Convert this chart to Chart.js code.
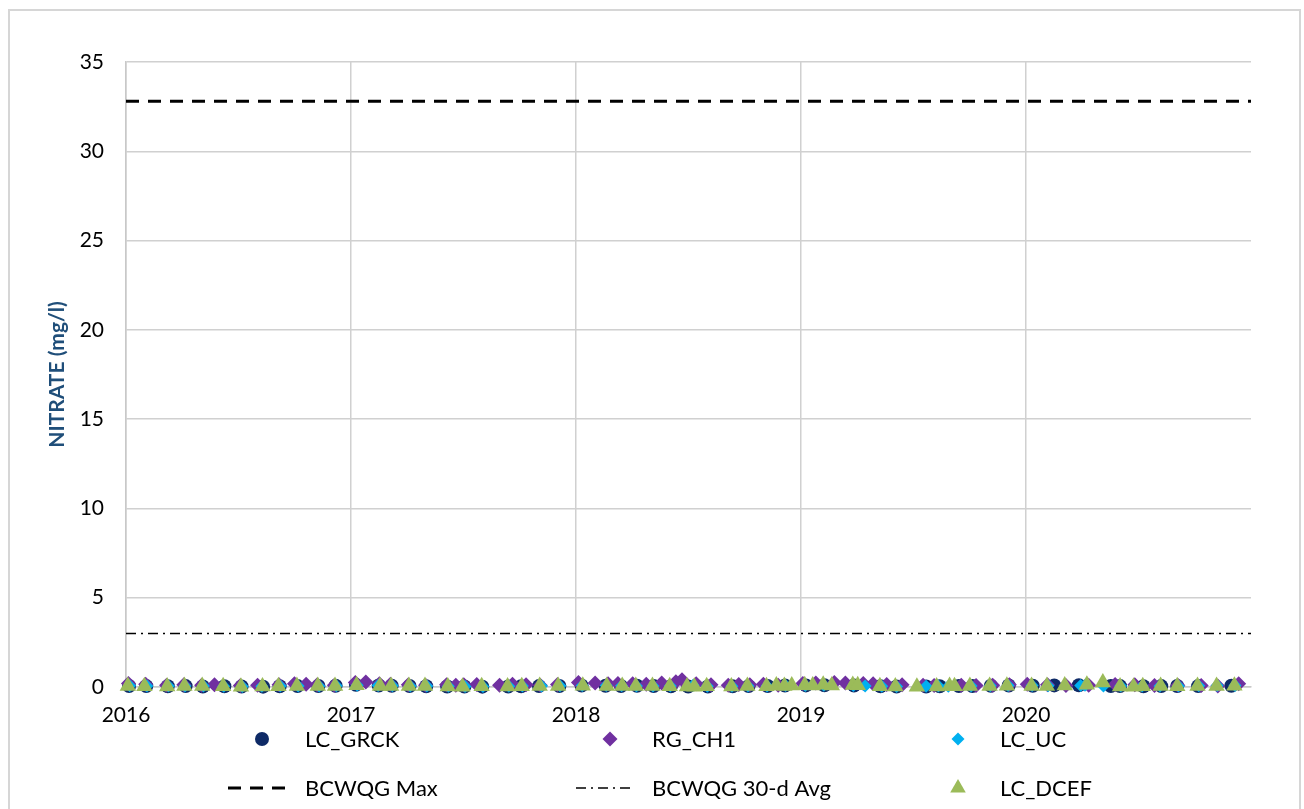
<!DOCTYPE html>
<html>
<head>
<meta charset="utf-8">
<script src="https://cdn.jsdelivr.net/npm/chart.js@4/dist/chart.umd.min.js"></script>
<style>
  html, body { margin: 0; padding: 0; background: #ffffff; }
  #frame {
    position: absolute; left: 8px; top: 9px; width: 1293px; height: 820px;
    border: 2px solid #d6d6d6; border-bottom: none; box-sizing: border-box;
  }
  #wrap { position: absolute; left: 0; top: 0; width: 1304px; height: 809px; }
</style>
</head>
<body>
<div id="frame"></div>
<div id="wrap"><canvas id="chart" width="1304" height="809"></canvas></div>
<script>
// Nitrate sampling results by site (mg/l)
const grckDates = [
  '2016-01-06','2016-02-03','2016-03-09','2016-04-07','2016-05-05','2016-06-09','2016-07-07','2016-08-11','2016-09-07','2016-10-06','2016-11-09','2016-12-07',
  '2017-01-09','2017-02-15','2017-03-08','2017-04-06','2017-05-03','2017-06-06','2017-07-04','2017-08-02','2017-09-13','2017-10-04','2017-11-02','2017-12-05',
  '2018-01-10','2018-02-18','2018-03-15','2018-04-10','2018-05-07','2018-06-04','2018-07-02','2018-08-03','2018-09-12','2018-10-08','2018-11-08','2018-12-06',
  '2019-01-09','2019-02-08','2019-03-28','2019-05-10','2019-06-05','2019-07-23','2019-08-14','2019-09-14','2019-10-06','2019-11-05','2019-12-04',
  '2020-01-12','2020-02-16','2020-03-27','2020-05-18','2020-06-02','2020-07-10','2020-08-08','2020-09-03','2020-10-07','2020-11-30'
];
const grckValues = [
  0.06,0.05,0.04,0.05,0.03,0.04,0.03,0.02,0.04,0.05,0.06,0.07,
  0.12,0.08,0.07,0.06,0.04,0.03,0.03,0.02,0.03,0.04,0.05,0.06,
  0.08,0.07,0.06,0.07,0.05,0.04,0.03,0.03,0.04,0.05,0.06,0.08,
  0.09,0.10,0.08,0.04,0.03,0.03,0.04,0.05,0.06,0.07,0.08,
  0.07,0.09,0.10,0.06,0.05,0.04,0.05,0.06,0.05,0.07
];

const ch1Dates = [
  '2016-01-05','2016-02-02','2016-03-07','2016-04-04','2016-05-03','2016-05-24','2016-07-05','2016-08-02','2016-09-06','2016-10-01','2016-10-20','2016-11-07','2016-12-05',
  '2017-01-08','2017-01-25','2017-02-16','2017-03-06','2017-04-04','2017-05-02','2017-06-05','2017-06-20','2017-07-03','2017-07-24','2017-08-30','2017-09-20','2017-10-12','2017-11-04','2017-12-02',
  '2018-01-05','2018-02-01','2018-02-22','2018-03-10','2018-04-03','2018-04-25','2018-05-20','2018-06-12','2018-06-22','2018-07-15','2018-08-08','2018-09-05','2018-09-22','2018-10-10','2018-11-01','2018-11-25',
  '2019-01-04','2019-01-25','2019-02-24','2019-03-14','2019-04-12','2019-04-28','2019-05-20','2019-06-14','2019-07-18','2019-08-05','2019-09-18','2019-10-12','2019-11-08','2019-12-05',
  '2020-01-03','2020-02-05','2020-03-06','2020-04-12','2020-05-25','2020-06-26','2020-07-28','2020-09-04','2020-10-12','2020-11-08','2020-12-12'
];
const ch1Values = [
  0.20,0.15,0.10,0.12,0.10,0.12,0.08,0.10,0.12,0.18,0.15,0.12,0.10,
  0.25,0.28,0.18,0.15,0.12,0.10,0.12,0.10,0.12,0.14,0.10,0.15,0.12,0.10,0.14,
  0.25,0.22,0.18,0.20,0.18,0.15,0.22,0.30,0.40,0.18,0.12,0.10,0.14,0.12,0.15,0.10,
  0.20,0.22,0.25,0.22,0.20,0.18,0.14,0.12,0.10,0.08,0.10,0.08,0.10,0.12,
  0.15,0.12,0.08,0.10,0.14,0.12,0.08,0.10,0.08,0.06,0.18
];

const ucDates = [
  '2016-01-07','2016-02-04','2016-03-10','2016-04-06','2016-05-06','2016-06-08','2016-07-08','2016-08-09','2016-09-08','2016-10-07','2016-11-10','2016-12-08',
  '2017-01-11','2017-02-14','2017-03-09','2017-04-07','2017-05-04','2017-06-08','2017-07-05','2017-08-03','2017-09-14','2017-10-06','2017-11-06','2017-12-06',
  '2018-01-11','2018-02-19','2018-03-16','2018-04-09','2018-05-06','2018-06-03','2018-07-10','2018-08-02','2018-09-11','2018-10-07','2018-11-07','2018-12-07',
  '2019-01-08','2019-02-07','2019-03-27','2019-04-15','2019-05-12','2019-06-05','2019-07-23','2019-08-12','2019-08-28','2019-10-04','2019-11-04','2019-12-03',
  '2020-01-11','2020-02-06','2020-03-30','2020-04-06','2020-05-06','2020-06-03','2020-07-08','2020-08-06','2020-09-05','2020-10-08','2020-11-07','2020-12-06'
];
const ucValues = [
  0.07,0.06,0.05,0.06,0.05,0.04,0.03,0.04,0.05,0.06,0.06,0.07,
  0.10,0.08,0.07,0.06,0.05,0.04,0.03,0.03,0.04,0.05,0.06,0.07,
  0.09,0.08,0.07,0.06,0.06,0.05,0.10,0.04,0.04,0.05,0.06,0.08,
  0.09,0.10,0.09,0.06,0.04,0.03,0.04,0.05,0.04,0.06,0.07,0.08,
  0.08,0.07,0.09,0.10,0.06,0.05,0.05,0.06,0.06,0.07,0.08,0.09
];

const dcefDates = [
  '2016-01-04','2016-01-31','2016-03-08','2016-04-05','2016-05-04','2016-06-07','2016-07-06','2016-08-10','2016-09-05','2016-10-05','2016-11-08','2016-12-06',
  '2017-01-10','2017-02-17','2017-03-07','2017-04-05','2017-05-01','2017-06-07','2017-07-01','2017-08-01','2017-09-12','2017-10-05','2017-11-03','2017-12-03',
  '2018-01-12','2018-02-20','2018-03-17','2018-04-08','2018-05-05','2018-06-02','2018-06-30','2018-07-12','2018-08-01','2018-09-10','2018-10-06','2018-11-06','2018-11-22','2018-12-05','2018-12-17',
  '2019-01-07','2019-01-20','2019-02-06','2019-02-20','2019-03-26','2019-04-03','2019-05-09','2019-06-03','2019-07-08','2019-08-09','2019-08-30','2019-09-07','2019-10-02','2019-11-03','2019-12-01',
  '2020-01-10','2020-02-04','2020-03-04','2020-04-09','2020-05-05','2020-06-02','2020-06-24','2020-07-09','2020-08-07','2020-09-03','2020-10-06','2020-11-06','2020-12-05'
];
const dcefValues = [
  0.05,0.04,0.03,0.06,0.05,0.04,0.02,0.03,0.04,0.05,0.06,0.05,
  0.10,0.05,0.06,0.05,0.06,0.03,0.02,0.04,0.03,0.04,0.05,0.06,
  0.07,0.05,0.06,0.05,0.06,0.04,0.03,0.02,0.04,0.03,0.05,0.04,0.08,0.06,0.09,
  0.10,0.08,0.12,0.09,0.11,0.10,0.04,0.03,0.02,0.03,0.05,0.04,0.05,0.06,0.07,
  0.06,0.05,0.09,0.12,0.25,0.03,0.02,0.04,0.05,0.04,0.05,0.06,0.07
];

// Guideline levels (mg/l)
const bcwqgMax = 32.8;
const bcwqgAvg30 = 3.0;

const yearTicks = [2016, 2017, 2018, 2019, 2020];
const xStart = 2016, xEnd = 2021;

// Convert an ISO date to a fractional year for the linear time axis
function toYear(d) {
  const [y, m, dd] = d.split('-').map(Number);
  const start = Date.UTC(y, 0, 1), end = Date.UTC(y + 1, 0, 1);
  return y + (Date.UTC(y, m - 1, dd) - start) / (end - start);
}
function pairs(dates, values) {
  return dates.map((d, i) => ({ x: toYear(d), y: values[i] }));
}

const FONT = 'Lato, "Open Sans", sans-serif';

const datasets = [
  { label: 'LC_GRCK', data: pairs(grckDates, grckValues), pointStyle: 'circle', pointRadius: 7,
    backgroundColor: '#0E2A66', borderColor: '#0E2A66', order: 3 },
  { label: 'RG_CH1', data: pairs(ch1Dates, ch1Values), pointStyle: 'rectRot', pointRadius: 7.5,
    backgroundColor: '#7030A0', borderColor: '#7030A0', order: 2 },
  { label: 'LC_UC', data: pairs(ucDates, ucValues), pointStyle: 'rectRot', pointRadius: 6.5,
    backgroundColor: '#00B0F0', borderColor: '#00B0F0', order: 1 },
  { label: 'BCWQG Max', type: 'line', data: [{ x: xStart, y: bcwqgMax }, { x: xEnd, y: bcwqgMax }],
    borderColor: '#000000', borderWidth: 3, borderDash: [13, 9], pointRadius: 0, showLine: true, order: 5 },
  { label: 'BCWQG 30-d Avg', type: 'line', data: [{ x: xStart, y: bcwqgAvg30 }, { x: xEnd, y: bcwqgAvg30 }],
    borderColor: '#000000', borderWidth: 1.5, borderDash: [10, 5, 2, 5], pointRadius: 0, showLine: true, order: 5 },
  { label: 'LC_DCEF', data: pairs(dcefDates, dcefValues), pointStyle: 'triangle', pointRadius: 9.5,
    backgroundColor: '#9BBB59', borderColor: '#9BBB59', order: 0 }
];
datasets.forEach(ds => { ds.clip = false; if (ds.type !== 'line') { ds.borderWidth = 0; ds.showLine = false; } });

// Legend laid out as a 3-column grid under the axis
const legendGrid = {
  id: 'legendGrid',
  afterDraw(chart) {
    const ctx = chart.ctx;
    const cols = [{ mark: 262, text: 305 }, { mark: 610, text: 652 }, { mark: 958, text: 1000 }];
    const rows = [739, 788];
    ctx.save();
    ctx.font = '22px ' + FONT;
    ctx.textBaseline = 'middle';
    chart.data.datasets.forEach((ds, i) => {
      const c = cols[i % 3], y = rows[Math.floor(i / 3)];
      if (ds.type === 'line') {
        ctx.save();
        ctx.strokeStyle = ds.borderColor;
        ctx.lineWidth = ds.borderWidth;
        ctx.setLineDash(ds.borderDash);
        ctx.beginPath();
        ctx.moveTo(c.mark - 34, y);
        ctx.lineTo(c.mark + 23, y);
        ctx.stroke();
        ctx.restore();
      } else {
        ctx.fillStyle = ds.backgroundColor;
        Chart.helpers.drawPoint(ctx, {
          pointStyle: ds.pointStyle, radius: ds.pointStyle === 'triangle' ? 9 : ds.pointRadius,
          rotation: 0, borderWidth: 0
        }, c.mark, y);
      }
      ctx.fillStyle = '#000000';
      ctx.fillText(ds.label, c.text, y + 1);
    });
    ctx.restore();
  }
};

new Chart(document.getElementById('chart'), {
  type: 'scatter',
  data: { datasets },
  plugins: [legendGrid],
  options: {
    responsive: false,
    animation: false,
    events: [],
    layout: { padding: { top: 62, right: 53, bottom: 82, left: 0 } },
    plugins: { legend: { display: false }, tooltip: { enabled: false } },
    scales: {
      x: {
        type: 'linear', min: xStart, max: xEnd,
        afterFit: s => { s.height = 40; },
        afterBuildTicks: s => { s.ticks = yearTicks.concat([xEnd]).map(v => ({ value: v })); },
        ticks: {
          padding: 16, maxRotation: 0, autoSkip: false,
          font: { family: FONT, size: 21 }, color: '#000000',
          callback: v => (yearTicks.includes(v) ? String(v) : '')
        },
        grid: {
          drawTicks: false, lineWidth: 1.5,
          color: c => (c.tick && c.tick.value === xEnd ? 'rgba(0,0,0,0)' : '#d0d0d0')
        },
        border: { display: true, color: '#c8c8c8', width: 1.5 }
      },
      y: {
        min: 0, max: 35,
        afterFit: s => { s.width = 126; },
        ticks: { stepSize: 5, padding: 22, font: { family: FONT, size: 21 }, color: '#000000' },
        grid: { drawTicks: false, lineWidth: 1.5, color: '#d0d0d0' },
        border: { display: true, color: '#c8c8c8', width: 1.5 },
        title: {
          display: true, text: 'NITRATE (mg/l)', color: '#1F4E79',
          font: { family: FONT, size: 21, weight: 'bold' },
          padding: { top: 45, bottom: 0 }
        }
      }
    }
  }
});
</script>
</body>
</html>
